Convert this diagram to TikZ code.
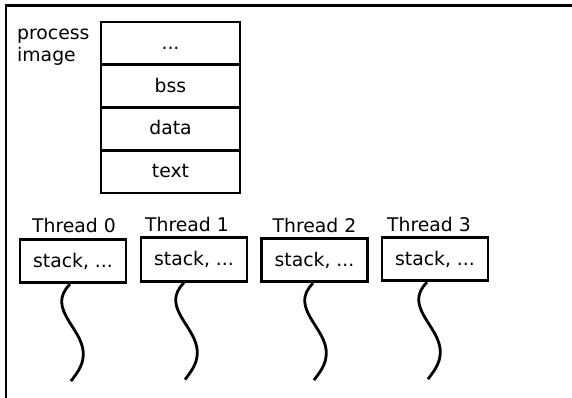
\documentclass[tikz,border=0pt]{standalone}
\usepackage{fontspec}
\setmainfont{DejaVu Sans}
\usetikzlibrary{calc}
\begin{document}
\begin{tikzpicture}[x=1pt,y=-1pt,
  every node/.style={font=\fontsize{18.8}{21.5}\selectfont},
  lw/.style={line width=2.8pt},
  seg/.style={draw,lw,minimum width=139pt,minimum height=42.75pt,inner sep=0pt,text height=12pt,text depth=0pt},
  tbox/.style={draw,lw,minimum width=106pt,minimum height=43.5pt,inner sep=0pt,text height=12pt,text depth=0pt},
  tlabel/.style={anchor=base,inner sep=0pt},
  pics/wave/.style={code={\draw[lw] (0,0) .. controls (-6,6) and (-8.3,12) .. (-8.3,17)
      .. controls (-8.3,35) and (13.3,50) .. (13.3,70)
      .. controls (13.3,82) and (6,90) .. (1,97);}}]
\useasboundingbox (0,0) rectangle (572,398);
% partial frame
\draw[lw] (6,398) -- (6,5.3) -- (572,5.3);
% process image
\node[anchor=base west,align=left,inner sep=0pt] (pi) at (17,61.5) {process\\image};
\node[seg] (r0) at (170.5,43.4) {...};
\node[seg] (r1) at (170.5,86.1) {bss};
\node[seg] (r2) at (170.5,128.9) {data};
\node[seg] (r3) at (170.5,171.6) {text};
% threads
\node[tbox] (t0) at (73,261) {stack, ...};
\node[tbox] (t1) at (194,259.5) {stack, ...};
\node[tbox] (t2) at (314.5,260) {stack, ...};
\node[tbox] (t3) at (435,259) {stack, ...};
\node[tlabel] (l0) at ($(t0.north)+(1,-5)$) {Thread 0};
\node[tlabel] (l1) at ($(t1.north)+(-7,-4.5)$) {Thread 1};
\node[tlabel] (l2) at ($(t2.north)+(0,-4.5)$) {Thread 2};
\node[tlabel] (l3) at ($(t3.north)+(-6,-4.5)$) {Thread 3};
\pic at ($(t0.south)+(-3,0)$) {wave};
\pic at ($(t1.south)+(-10,0)$) {wave};
\pic at ($(t2.south)+(-1.5,0)$) {wave};
\pic at ($(t3.south)+(-8,0)$) {wave};
\end{tikzpicture}
\end{document}
